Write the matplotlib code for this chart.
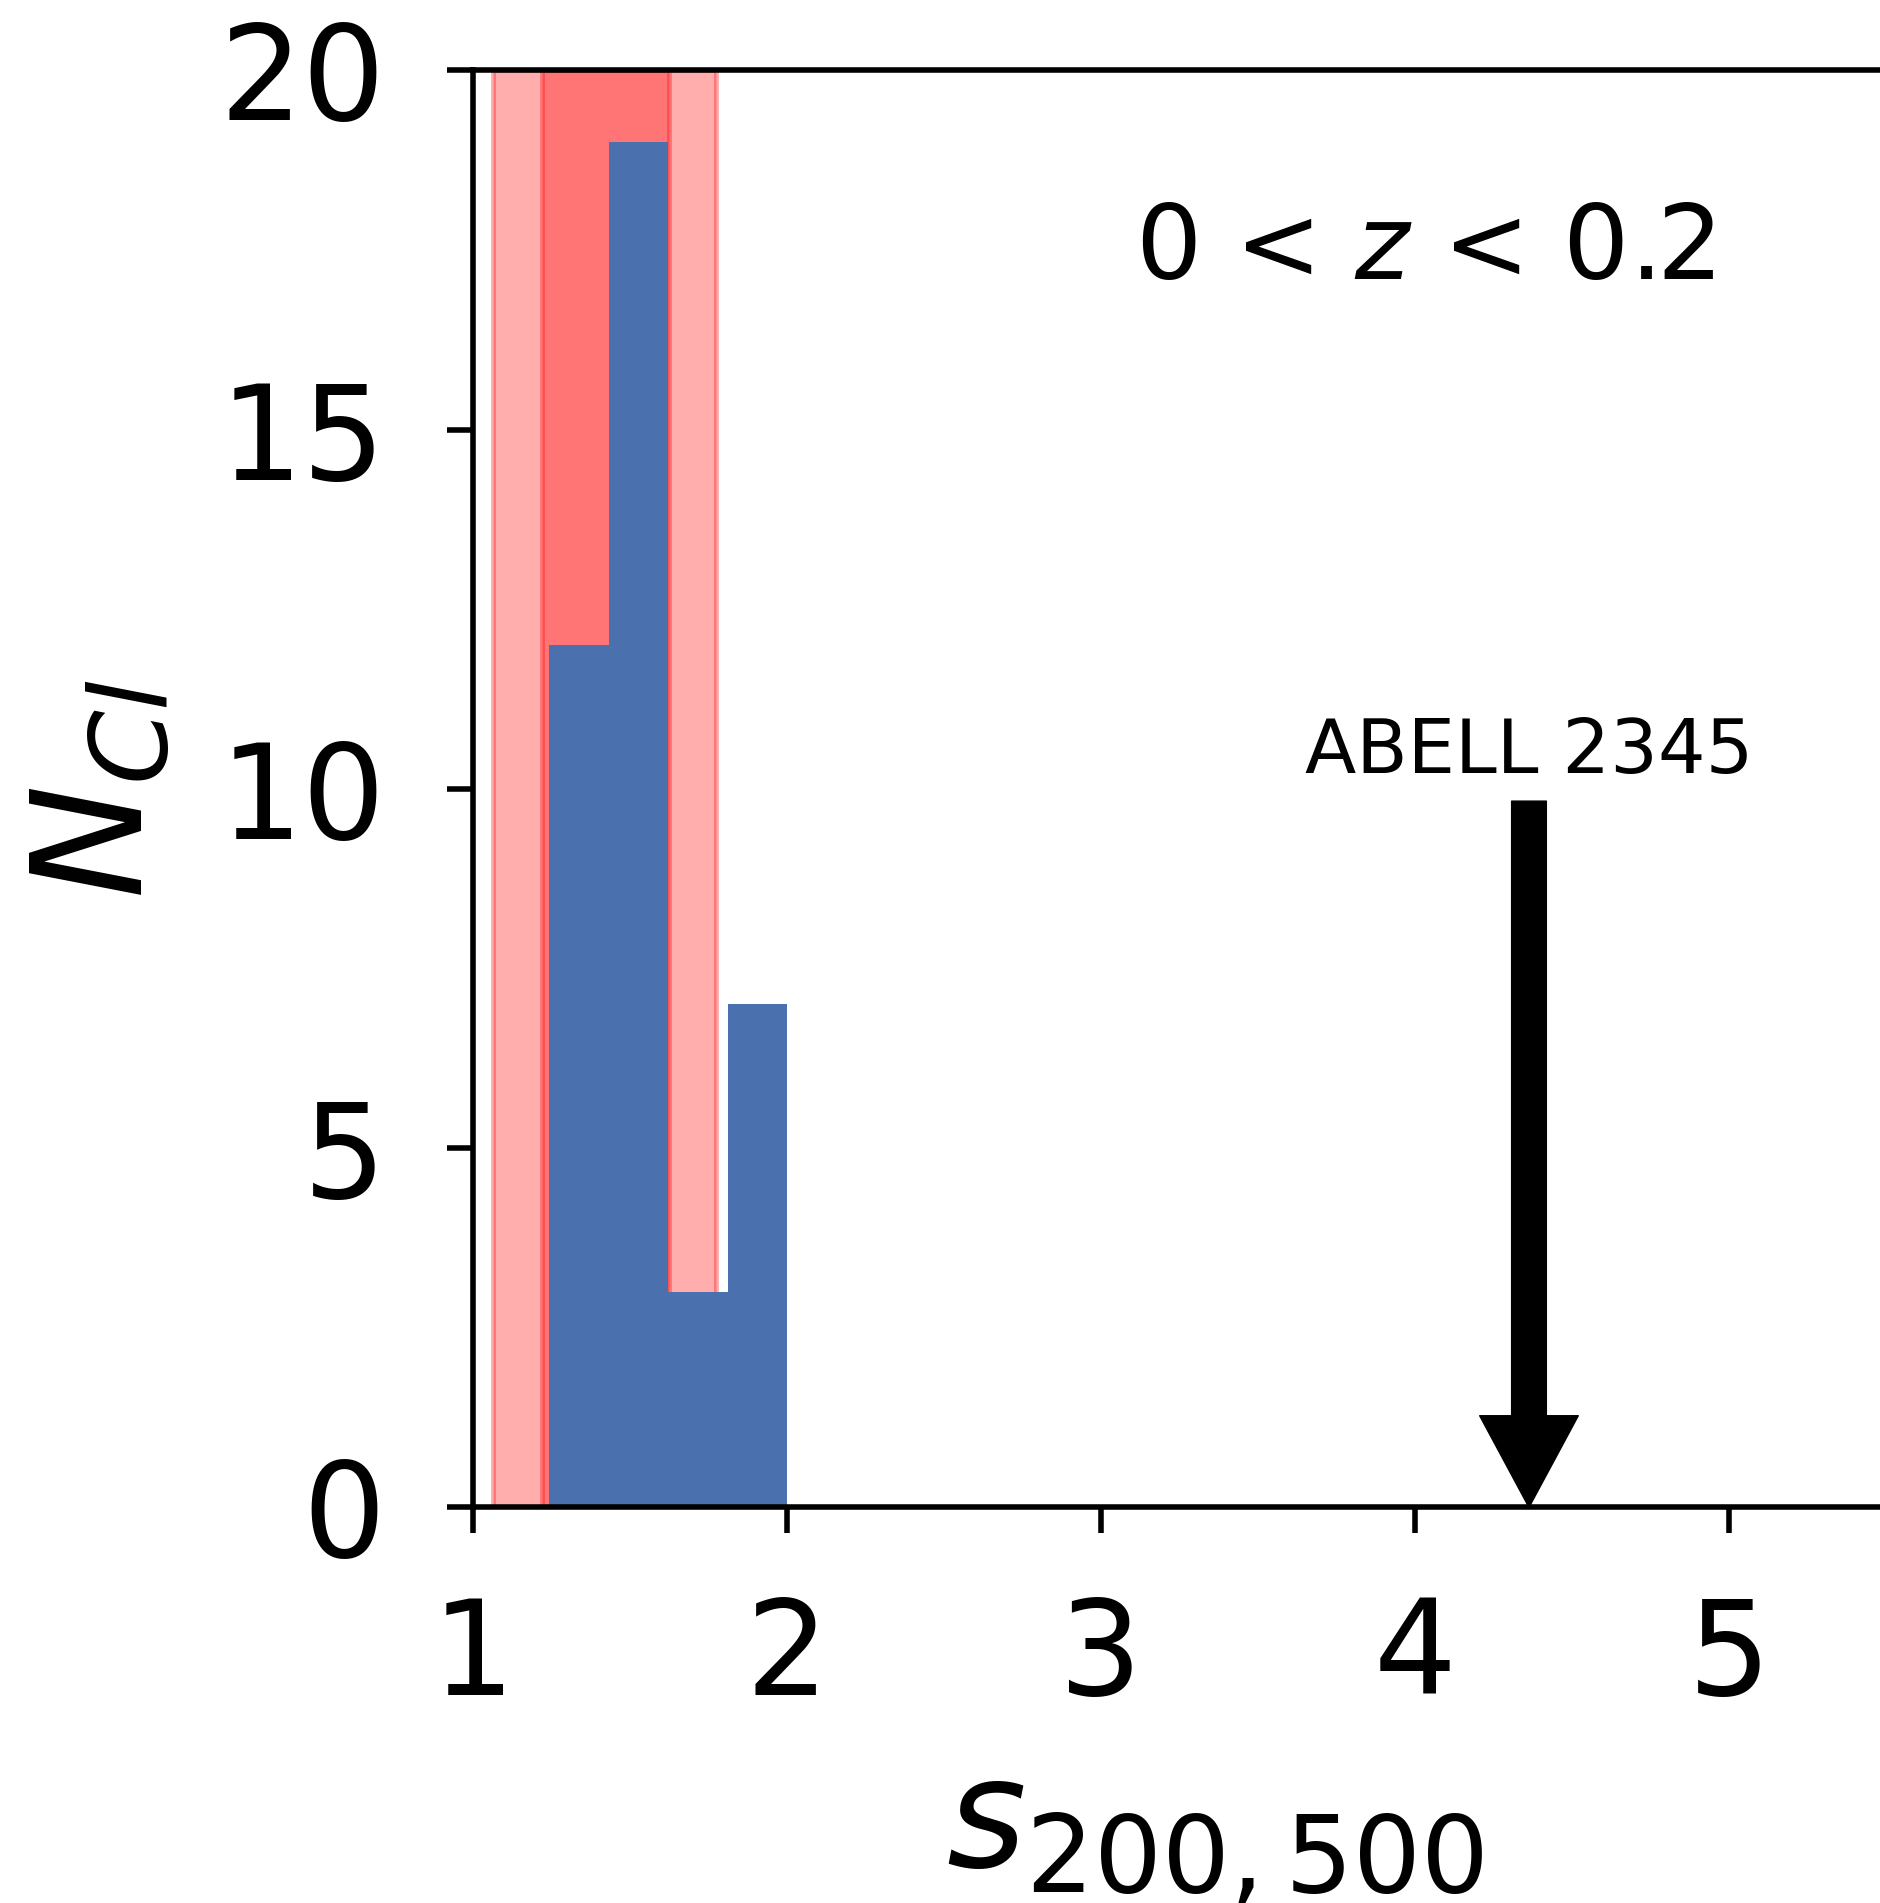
import matplotlib
matplotlib.use("Agg")
import matplotlib.pyplot as plt
import numpy as np

# Data
bin_edges = [1.243, 1.432, 1.622, 1.811, 2.0]
counts = [12, 19, 3, 7]
outer_band = (1.065, 1.775)
inner_band = (1.221, 1.623)
cluster_name = "ABELL 2345"
cluster_s = 4.363
arrow_top = 9.83
z_label = r"0 < $z$ < 0.2"
xticks = [1, 2, 3, 4, 5]
yticks = [0, 5, 10, 15, 20]

W, H = 1880, 1903
fig = plt.figure(figsize=(W / 100, H / 100), dpi=100)
x0, y0, x1, y1 = 473, 1507.4, 1957, 70.4
ax = fig.add_axes([x0 / W, 1 - y0 / H, (x1 - x0) / W, (y0 - y1) / H])

ax.axvspan(*outer_band, color="red", alpha=0.32, lw=3.5, zorder=1)
ax.axvspan(*inner_band, color="red", alpha=0.32, lw=3.5, zorder=1)

widths = np.diff(bin_edges)
ax.bar(bin_edges[:-1], counts, width=widths, align="edge", color="#4a70ae",
       lw=0, zorder=2)

ax.set_xlim(1, 1 + (x1 - x0) / 314.0)
ax.set_ylim(0, 20)
ax.set_xticks(xticks)
ax.set_yticks(yticks)

for s in ["top", "left", "bottom", "right"]:
    ax.spines[s].set_linewidth(4.0)
    ax.spines[s].set_zorder(4)
ax.tick_params(axis="both", which="major", length=19, width=4.0, pad=44,
               labelsize=94, top=False, right=False)

ax.set_xlabel(r"$s_{200,500}$", fontsize=110, labelpad=25)
ax.set_ylabel(r"$N_{Cl}$", fontsize=110, labelpad=32)

ax.text(4.03, 17.1, z_label, fontsize=75, ha="center", va="baseline")
ax.text(cluster_s, 10.22, cluster_name, fontsize=54, ha="center", va="baseline")
ax.annotate("", xy=(cluster_s, 0), xytext=(cluster_s, arrow_top),
            arrowprops=dict(facecolor="black", edgecolor="black", lw=1,
                            width=25, headwidth=71, headlength=66, shrink=0),
            zorder=5)

fig.savefig("out.png", dpi=100)
